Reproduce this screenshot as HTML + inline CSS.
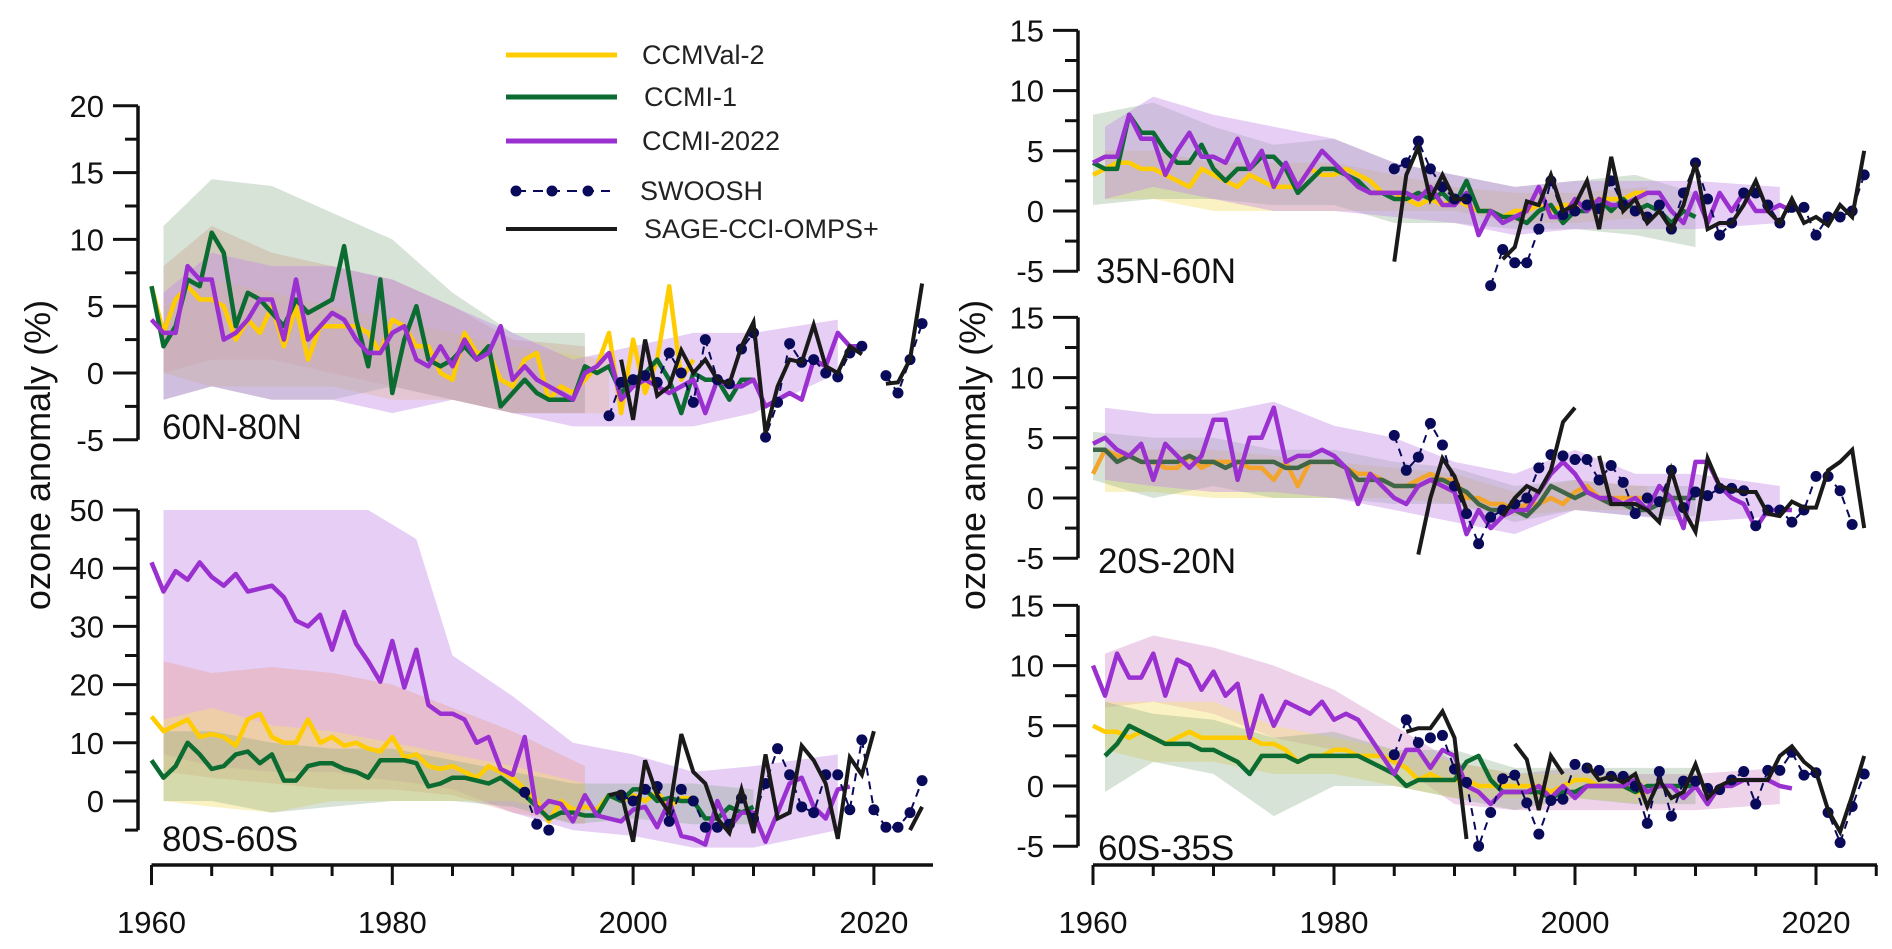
<!DOCTYPE html>
<html><head><meta charset="utf-8">
<style>
html,body{margin:0;padding:0;background:#fff;}
svg{display:block;font-family:"Liberation Sans","DejaVu Sans",sans-serif;}
</style></head>
<body>
<svg id="chart" width="1892" height="949" viewBox="0 0 1892 949" xmlns="http://www.w3.org/2000/svg">
<g>
  <g><line x1="506" y1="55" x2="617" y2="55" stroke="#ffcc00" stroke-width="5"/><text x="642" y="64" font-size="27" fill="#222">CCMVal-2</text></g>
  <g><line x1="506" y1="97" x2="617" y2="97" stroke="#0b6b30" stroke-width="5"/><text x="644" y="106" font-size="27" fill="#222">CCMI-1</text></g>
  <g><line x1="506" y1="141" x2="617" y2="141" stroke="#9b30d0" stroke-width="5"/><text x="642" y="150" font-size="27" fill="#222">CCMI-2022</text></g>
  <g><line x1="516" y1="191" x2="610" y2="191" stroke="#0a0a5a" stroke-width="2" stroke-dasharray="10,7"/><circle cx="516" cy="191" r="5.5" fill="#0a0a5a"/><circle cx="552" cy="191" r="5.5" fill="#0a0a5a"/><circle cx="588" cy="191" r="5.5" fill="#0a0a5a"/><text x="640" y="200" font-size="27" fill="#222">SWOOSH</text></g>
  <g><line x1="506" y1="229" x2="617" y2="229" stroke="#1a1a1a" stroke-width="4"/><text x="644" y="238" font-size="27" fill="#222">SAGE-CCI-OMPS+</text></g>
</g>
<text transform="translate(50,455) rotate(-90)" text-anchor="middle" font-size="36" fill="#111">ozone anomaly (%)</text>
<text transform="translate(985,455) rotate(-90)" text-anchor="middle" font-size="36" fill="#111">ozone anomaly (%)</text>
</svg>
<script>
// ---------- DATA (per panel) ----------
// 60N-80N
const p1_ccmval2_start = 1960;
const p1_ccmval2 = [6.5,3,5.5,6.5,5.5,5.5,5,2.5,4,3,5,2,5,1,3.5,3.5,3.5,3.5,3,1.5,4,3.5,2,2,0,-0.5,3,1.5,1.5,-0.5,-1,1,1.5,-2,-1,-1.5,-0.5,0.5,3,-3,2.5,-1.5,1,6.5,-0.5,1];
const p1_ccmi1_start = 1960;
const p1_ccmi1 = [6.5,2,3.5,7,6.5,10.5,9,3.5,6,5.5,4.5,3.5,5.5,4.5,5,5.5,9.5,4,0.5,7,-1.5,2.5,5,1,0.5,1,2,1,2,-2.5,-1.5,-0.5,-1.5,-2,-2,-2,0.5,0,0.5,-1.5,-0.5,0,1,-0.5,-3,0,-0.5,-0.5,-2,-0.5,-0.5];
const p1_ccmi2022_start = 1960;
const p1_ccmi2022 = [4,3,3,8,7,7,2.5,3,4,5.5,5.5,2.5,7,2.5,3.5,4.5,4,2.5,1.5,1.5,3,3.5,1,0.5,2,0.5,2.5,1,1.5,3.5,-0.5,0.5,-0.5,-1,-1.5,-2,0,0.5,1.5,-2,-1,-0.5,-1,-1.5,-1,-0.5,-3,-0.5,-1,-1,-0.5,-2.5,-2,-1.5,-2,1,0.5,3,2,2];
const p1_swoosh_start = 1998;
const p1_swoosh = [-3.2,-0.7,-0.5,-0.2,-0.7,1.5,0,-2.2,2.5,-0.5,-0.8,1.8,3,-4.8,-2.2,2.2,0.8,1,0,-0.3,1.5,2,null,-0.2,-1.5,1,3.7];
const p1_sage_start = 1999;
const p1_sage = [1,-3.5,2.5,-1.7,-1,1.7,0,1,-0.5,-0.8,2,3.8,-4.5,-1,1,0.8,3.6,0.5,0,2,1.4,null,-0.8,-0.7,1,6.7];
const p1_band_yellow_years = [1961,1965,1970,1975,1980,1985,1990,1998];
const p1_band_yellow_hi = [5,7,6,5,4,3,2,1];
const p1_band_yellow_lo = [0,-1,-1,-1,-2,-2,-3,-3];
const p1_band_salmon_years = [1961,1965,1970,1975,1980,1985,1990,1996];
const p1_band_salmon_hi = [8,11,9,8,7,5,2.5,2];
const p1_band_salmon_lo = [0,1,1,0,-1,-2,-3,-3];
const p1_band_green_years = [1961,1965,1970,1975,1980,1985,1990,1996];
const p1_band_green_hi = [11,14.5,14,12,10,6,3,3];
const p1_band_green_lo = [-2,-1,-2,-2,-1,-2,-3,-3];
const p1_band_purple_years = [1961,1965,1970,1975,1980,1985,1990,1995,2000,2005,2010,2017];
const p1_band_purple_hi = [6,9,8,8,7,5,3,1,2,3,3,4];
const p1_band_purple_lo = [-2,-1,-2,-2,-3,-2,-3,-4,-4,-4,-3,0];

// 80S-60S
const p2_ccmval2_start = 1960;
const p2_ccmval2 = [14.5,12,13,14,11,11.5,11,9.5,14,15,11,10,10,14,10,11,9.5,10,9,8.5,11,7.5,8,6,5.5,6,5,4,6,5,4,2,0,-3.5,0,-1.5,-1,-1.5,1,0,1,0,1.5,-1,0.5,0.5];
const p2_ccmi1_start = 1960;
const p2_ccmi1 = [7,4,6,10,8,5.5,6,8,8.5,6.5,8,3.5,3.5,6,6.5,6.5,5.5,5,4,7,7,7,6.5,2.5,3,4,4,3.5,3,4,2.5,1,-1,-3,-2,-2,-2.5,-2.5,1,0,2,2,0,0.5,0,0,-3,-3,-1,-2,-1];
const p2_ccmi2022_start = 1960;
const p2_ccmi2022 = [41,36,39.5,38,41,38.5,37,39,36,36.5,37,35,31,30,32,26,32.5,27,24,20.5,27.5,19.5,26,16.5,15,15,14,10,11,5.5,4.5,11,-2,0,-0.5,-3.5,1,-2.5,-3,-3.5,-1.5,-1,-4.5,0,-6,-6.5,-7.5,0,-4.5,-2,-2,-7,-2,3,4,-1,-3,2,2.5];
const p2_swoosh_start = 1991;
const p2_swoosh = [1.5,-4,-5,null,null,null,null,null,1,0,2,2.5,-3.5,2,0,-4.5,-4.5,-4,0.5,-3,3,9,4.5,-1,-2,4.5,4.5,-1.5,10.5,-1.5,-4.5,-4.5,-2,3.5];
const p2_sage_start = 1998;
const p2_sage = [1,1.5,-7,7,1,-2,11.5,5,3,-3,-5.5,2,-5.5,8,-3,-2,9.5,7,3,-6.5,7.5,4.5,12,null,null,-5,-1];
const p2_band_yellow_years = [1961,1965,1970,1975,1980,1985,1990,1996];
const p2_band_yellow_hi = [14,16,13,12,10,8,6,3];
const p2_band_yellow_lo = [0,-1,-2,0,0,0,0,-3];
const p2_band_salmon_years = [1961,1965,1970,1975,1980,1985,1990,1996];
const p2_band_salmon_hi = [24,22,23,22,20,16,12,6];
const p2_band_salmon_lo = [5,4,3,2,2,1,-2,-4];
const p2_band_green_years = [1961,1965,1970,1975,1980,1985,1990,1995,2000,2005,2010];
const p2_band_green_hi = [12,12,10,9,9,7,5,3,3,3,2];
const p2_band_green_lo = [0,0,-2,-1,0,0,-1,-4,-3,-4,-4];
const p2_band_purple_years = [1961,1965,1970,1975,1978,1982,1985,1990,1995,2000,2005,2010,2017];
const p2_band_purple_hi = [50,50,50,50,50,45,25,18,10,8,5,6,8];
const p2_band_purple_lo = [8,6,5,5,4,3,2,-2,-5,-6,-8,-8,-5];

// 35N-60N
const p3_ccmval2_start = 1960;
const p3_ccmval2 = [3,3.5,4,4,3.5,3.5,3,2.5,2,3.5,3,2.5,2,3,2.5,2,2,2,3.5,3,3,3.5,3,2.5,1.5,1.5,1,0.5,1,0.5,1,0.5,0,0,-0.5,0,0,0.5,0,0.5,0.5,0.5,1,1,1,1.5,1.5];
const p3_ccmi1_start = 1960;
const p3_ccmi1 = [4,3.5,3.5,8,6.5,6.5,5,4,4,5.5,3.5,2.5,3.5,3.5,4.5,4.5,3.5,1.5,2.5,3.5,3.5,3,2.5,1.5,1.5,1,1,1.5,1,1.5,0.5,2.5,0,0,-0.5,-0.5,-1,0,0.5,-1,0,0,1,0,1,0,0.5,0,-1,0,-0.5];
const p3_ccmi2022_start = 1960;
const p3_ccmi2022 = [4,4.5,4.5,8,6,6,3,5,6.5,4.5,4.5,4,6,3.5,5,2,4,2,3.5,5,4,3,2,1.5,1.5,1.5,1.5,1,2,0.5,0.5,1.5,-2,0,-1,-0.5,0,2,-0.5,-0.5,1,0,1,0.5,0.5,1,1.5,1.5,0,-1,1.5,-1,1.5,0,1.5,0,0,0.5,0];
const p3_swoosh_start = 1985;
const p3_swoosh = [3.5,4,5.8,3.5,2,1,1,null,-6.2,-3.2,-4.3,-4.3,-1.5,2.5,-0.3,0,0.5,0.2,2.5,0.5,0,-0.5,0.5,-1.5,1.5,4,1,-2,-1,1.5,1.5,0.5,-1,0.3,0.3,-2,-0.5,-0.5,0,3];
const p3_sage_start = 1985;
const p3_sage = [-4.2,3,5.3,1,3,1,1,null,null,-4,-3,0.8,0.5,3,0,0.5,2.5,-1.5,4.5,0,1,-1,0,-1.5,0.5,4,-1.5,-1,-1,0.5,2.5,0,-1,1,-1,-0.5,-1.2,0.5,-0.5,5];
const p3_band_yellow_years = [1961,1965,1970,1975,1980,1985,1990,1995,2000,2006];
const p3_band_yellow_hi = [5,5,4,4,4,3,2,1.5,1.5,2];
const p3_band_yellow_lo = [1,1,0,0,0,0,0,-1,-1,-0.5];
const p3_band_green_years = [1960,1965,1970,1975,1980,1985,1990,1995,2000,2005,2010];
const p3_band_green_hi = [8,9,7,5.5,6,4,3,2,2.5,3,1.5];
const p3_band_green_lo = [0.5,1,1,0.5,0.5,-1,-1,-1.5,-1.5,-2,-3];
const p3_band_purple_years = [1961,1965,1970,1975,1980,1985,1990,1995,2000,2005,2010,2017];
const p3_band_purple_hi = [7,9.5,8,7,6,4,3,2,2.5,2.5,2.5,2];
const p3_band_purple_lo = [1,2,1,0,0,-0.5,-1,-2,-1.5,-1.5,-1.5,-1];

// 20S-20N
const p4_ccmval2_start = 1960;
const p4_ccmval2 = [2,4,3.5,3.5,3,3,2.5,2.5,3.5,2.5,3,3,3,2.5,2.5,1.5,3,1,3,3,3,2.5,2,2,1.5,1,1,1.5,2,1.5,1.5,0,0,-0.5,-0.5,-1,-0.5,-0.5,0,-0.5,0.5,1,0,0,0,0,0];
const p4_ccmi1_start = 1960;
const p4_ccmi1 = [4,4,3,3.5,3,3,3,3,3.5,3,3,2.5,3,3,3,3,2.5,2.5,3,3,3,2.5,1.5,1.5,1.5,1,1,1,1.5,1.5,1,0.5,-0.5,-1,-1,-1,-1.5,-0.5,1,0.5,0,0.5,0,-0.5,-0.5,-1,-1,-0.5,0,0,0];
const p4_ccmi2022_start = 1960;
const p4_ccmi2022 = [4.5,5,4,3.5,4.5,1.5,4.5,3.5,2.5,3.5,6.5,6.5,1.5,5,5,7.5,3,3.5,3.5,4,3.5,2.5,-0.5,2,1,0,-0.5,1,1.5,1,0.5,-3,-1,-2.5,-1.5,-1,-1,0.5,2,3,2,0.5,0,0,-0.5,0,-1,1,0,-2.5,3,3,1,0,-0.5,-2.5,-1,-1,-1];
const p4_swoosh_start = 1985;
const p4_swoosh = [5.2,2.3,3.4,6.2,4.4,1,-1.3,-3.8,-1.6,-1,-0.5,0,2.5,3.6,3.5,3.2,3.2,1.5,2.7,1.3,-1.3,0,-0.3,2.3,-0.8,0.5,0.2,0.8,0.8,0.6,-2.3,-1,-1,-2,-1,1.8,1.8,0.6,-2.2];
const p4_sage_start = 1987;
const p4_sage = [-4.7,0,3.3,1.8,-1,null,null,-1.5,0,1,0.5,2.3,6.3,7.5,null,3.5,-0.5,-0.5,-0.5,-1,-2,2.3,-1,-2.8,3.3,1,0.7,0.5,0.5,-1.3,-1.5,-0.3,-0.8,-0.8,2.3,3,4,-2.5];
const p4_band_yellow_years = [1961,1965,1970,1975,1980,1985,1990,1995,2000,2006];
const p4_band_yellow_hi = [4,4,4,3.5,3,2.5,2,0.5,1.5,1];
const p4_band_yellow_lo = [0.5,0.5,0,0,0,0,-0.5,-1.5,-1,-1];
const p4_band_green_years = [1960,1965,1970,1975,1980,1985,1990,1995,2000,2005,2010];
const p4_band_green_hi = [5.5,5,5,4,4,3,2.5,1,1.5,1,1];
const p4_band_green_lo = [1.5,0,1,0,0,-0.5,-0.5,-2,-1,-1.5,-1.5];
const p4_band_purple_years = [1961,1965,1970,1975,1980,1985,1990,1995,2000,2005,2010,2017];
const p4_band_purple_hi = [7.5,7,7,8,6,5,3,2,4,2,2,1];
const p4_band_purple_lo = [1.5,1,0.5,0.5,0,-1,-2,-3,-1,-1.5,-2,-1.5];

// 60S-35S
const p5_ccmval2_start = 1960;
const p5_ccmval2 = [5,4.5,4.5,4,4.5,4,3.5,4,4.5,4,4,4,4,4,3.5,3.5,3,2,2.5,2.5,3,3,2.5,2.5,2.5,2,1.5,0.5,1,0.5,0.5,0.5,0,0,0,0,0,0,-0.5,0,0.5,0.5,0,0,0,-0.5,-0.5];
const p5_ccmi1_start = 1961;
const p5_ccmi1 = [2.5,3.5,5,4.5,4,3.5,3.5,3.5,3,3,2.5,2,1,2.5,2.5,2.5,2,2.5,2.5,2.5,2.5,2.5,2,1.5,1,0,0.5,0.5,0.5,0.5,2,2.5,0.5,-0.5,-0.5,-0.5,-0.5,-1,-0.5,-0.5,0,0,0,0,-0.5,0,0,0,0,0];
const p5_ccmi2022_start = 1960;
const p5_ccmi2022 = [10,7.5,11,9,9,11,7.5,10.5,10,8,9.5,7.5,8.5,4,7.5,5,7,6.5,6,7,5.5,6,5.5,4,2.5,1,3,3,1.5,3,2.5,0,-0.5,-1.5,-0.5,-0.5,-0.5,0,-1,0,-1,0,0,0,0,0.5,-0.5,0,0,-1,0,-1.5,0,0,0.5,0.5,0.5,0,-0.2];
const p5_swoosh_start = 1985;
const p5_swoosh = [2.6,5.5,3.6,4,4.2,1.4,0.3,-5,-2.2,0.6,0.9,-1.4,-4,-1.2,-1.1,1.8,1.5,1.3,0.8,0.8,0,-3.1,1.2,-2.5,0.4,0.4,-0.2,-0.3,0.5,1.2,-1.5,1.3,1.3,2.8,0.9,1.1,-2.2,-4.7,-1.7,1];
const p5_sage_start = 1986;
const p5_sage = [4.5,4.8,4.8,6.2,4,-4.4,null,null,null,3.5,2.2,-2,2.5,1,null,1.8,0.5,0.8,0.3,1,-1.7,0.5,-1,-0.5,1.8,-1,0,0.5,0.5,0.5,0.5,2.5,3.3,2,1.2,-2,-3.8,-0.8,2.5];
const p5_band_yellow_years = [1961,1965,1970,1975,1980,1985,1990,1995,2000,2006];
const p5_band_yellow_hi = [7,7,7,5,4,3,2,1,1,0.5];
const p5_band_yellow_lo = [3,2,2,1,1,0,-1,-1,-1,-1.5];
const p5_band_green_years = [1961,1965,1970,1975,1980,1985,1990,1995,2000,2005,2010];
const p5_band_green_hi = [7,6,5.5,4,4.5,3,3,1.5,1.5,1.5,1.5];
const p5_band_green_lo = [-0.5,2,1,-2.5,0,0,-1,-2,-1,-1.5,-1.5];
const p5_band_purple_years = [1961,1965,1970,1975,1980,1985,1990,1995,2000,2005,2010,2017];
const p5_band_purple_hi = [11,12.5,11.5,10,8,5,2,1,1.5,1,1,1.5];
const p5_band_purple_lo = [6.5,7,6,4,3,2,-1.5,-2,-2,-2,-2,-1.5];

const xTickYears = [1960,1980,2000,2020];

// ---------- RENDER ----------
const NS = 'http://www.w3.org/2000/svg';
const svg = document.getElementById('chart');
function mk(tag, attrs, parent){
  const e = document.createElementNS(NS, tag);
  for (const k in attrs) e.setAttribute(k, attrs[k]);
  (parent||svg).appendChild(e);
  return e;
}
const panels = [
  {id:'60n-80n', label:'60N-80N', lx:162, ly:439, axisX:138, yr0:151.5, pxYr:12.04, zeroY:373, pxU:13.36, ymin:-5, ymax:20, step:5, minor:2.5, ext:-5,
   d:{c2:[p1_ccmval2_start,p1_ccmval2],c1:[p1_ccmi1_start,p1_ccmi1],c22:[p1_ccmi2022_start,p1_ccmi2022],sw:[p1_swoosh_start,p1_swoosh],sg:[p1_sage_start,p1_sage]},
   bands:[[p1_band_salmon_years,p1_band_salmon_hi,p1_band_salmon_lo,'salmon'],[p1_band_yellow_years,p1_band_yellow_hi,p1_band_yellow_lo,'yellow'],[p1_band_green_years,p1_band_green_hi,p1_band_green_lo,'green'],[p1_band_purple_years,p1_band_purple_hi,p1_band_purple_lo,'purple']]},
  {id:'80s-60s', label:'80S-60S', lx:162, ly:851, axisX:138, yr0:151.5, pxYr:12.04, zeroY:801, pxU:5.82, ymin:0, ymax:50, step:10, minor:5, ext:-5,
   d:{c2:[p2_ccmval2_start,p2_ccmval2],c1:[p2_ccmi1_start,p2_ccmi1],c22:[p2_ccmi2022_start,p2_ccmi2022],sw:[p2_swoosh_start,p2_swoosh],sg:[p2_sage_start,p2_sage]},
   bands:[[p2_band_purple_years,p2_band_purple_hi,p2_band_purple_lo,'purple'],[p2_band_salmon_years,p2_band_salmon_hi,p2_band_salmon_lo,'salmon'],[p2_band_yellow_years,p2_band_yellow_hi,p2_band_yellow_lo,'yellow'],[p2_band_green_years,p2_band_green_hi,p2_band_green_lo,'green']]},
  {id:'35n-60n', label:'35N-60N', lx:1096, ly:283, axisX:1078, yr0:1093, pxYr:12.05, zeroY:211, pxU:12.04, ymin:-5, ymax:15, step:5, minor:2.5, ext:-5,
   d:{c2:[p3_ccmval2_start,p3_ccmval2],c1:[p3_ccmi1_start,p3_ccmi1],c22:[p3_ccmi2022_start,p3_ccmi2022],sw:[p3_swoosh_start,p3_swoosh],sg:[p3_sage_start,p3_sage]},
   bands:[[p3_band_yellow_years,p3_band_yellow_hi,p3_band_yellow_lo,'yellow'],[p3_band_green_years,p3_band_green_hi,p3_band_green_lo,'green'],[p3_band_purple_years,p3_band_purple_hi,p3_band_purple_lo,'purple']]},
  {id:'20s-20n', label:'20S-20N', lx:1098, ly:573, axisX:1078, yr0:1093, pxYr:12.05, zeroY:498, pxU:12.04, ymin:-5, ymax:15, step:5, minor:2.5, ext:-5, c2color:'#f2a52a', c1color:'#3f6646',
   d:{c2:[p4_ccmval2_start,p4_ccmval2],c1:[p4_ccmi1_start,p4_ccmi1],c22:[p4_ccmi2022_start,p4_ccmi2022],sw:[p4_swoosh_start,p4_swoosh],sg:[p4_sage_start,p4_sage]},
   bands:[[p4_band_yellow_years,p4_band_yellow_hi,p4_band_yellow_lo,'yellow'],[p4_band_green_years,p4_band_green_hi,p4_band_green_lo,'green'],[p4_band_purple_years,p4_band_purple_hi,p4_band_purple_lo,'purple']]},
  {id:'60s-35s', label:'60S-35S', lx:1098, ly:860, axisX:1078, yr0:1093, pxYr:12.05, zeroY:786, pxU:12.04, ymin:-5, ymax:15, step:5, minor:2.5, ext:-5,
   d:{c2:[p5_ccmval2_start,p5_ccmval2],c1:[p5_ccmi1_start,p5_ccmi1],c22:[p5_ccmi2022_start,p5_ccmi2022],sw:[p5_swoosh_start,p5_swoosh],sg:[p5_sage_start,p5_sage]},
   bands:[[p5_band_purple_years,p5_band_purple_hi,p5_band_purple_lo,'pink'],[p5_band_yellow_years,p5_band_yellow_hi,p5_band_yellow_lo,'yellow'],[p5_band_green_years,p5_band_green_hi,p5_band_green_lo,'green']]}
];
const bandFill = {yellow:['#f7e27a',0.45], salmon:['#e79a8a',0.35], green:['#7fa37a',0.3], purple:['#c38be6',0.42], pink:['#d58fc8',0.4]};

function pathFrom(start, vals, X, Y){
  let d=''; let pen=false;
  vals.forEach((v,i)=>{
    if (v===null){pen=false;return;}
    d += (pen?'L':'M') + X(start+i).toFixed(1) + ',' + Y(v).toFixed(1);
    pen=true;
  });
  return d;
}

panels.forEach(p=>{
  const X = yr => p.yr0 + (yr-1960)*p.pxYr;
  const Y = v => p.zeroY - v*p.pxU;
  const g = mk('g',{});
  
  
  p.bands.forEach(b=>{
    const [yrs,hi,lo,col]=b;
    let d='M'+yrs.map((y,i)=>X(y).toFixed(1)+','+Y(hi[i]).toFixed(1)).join('L');
    for (let i=yrs.length-1;i>=0;i--) d+='L'+X(yrs[i]).toFixed(1)+','+Y(lo[i]).toFixed(1);
    d+='Z';
    const e = mk('path',{d:d, fill:bandFill[col][0], 'fill-opacity':bandFill[col][1], stroke:'none'}, g);
    
    
  });
  const ax = mk('g',{},g);
  
  
  mk('line',{x1:p.axisX,y1:Y(p.ymax),x2:p.axisX,y2:Y(p.ext),stroke:'#111','stroke-width':3.5},ax);
  for (let v=p.ymin; v<=p.ymax+0.01; v+=p.minor){
    const major = Math.abs(v/p.step - Math.round(v/p.step))<1e-6;
    mk('line',{x1:p.axisX-(major?25:13),y1:Y(v),x2:p.axisX,y2:Y(v),stroke:'#111','stroke-width':3},ax);
    if (major){
      const t = mk('text',{x:p.axisX-34,y:Y(v)+11,'text-anchor':'end','font-size':31,fill:'#111'},ax);
      t.textContent = v;
      
      
    }
  }
  if (p.ymin>p.ext) mk('line',{x1:p.axisX-13,y1:Y(p.ext),x2:p.axisX,y2:Y(p.ext),stroke:'#111','stroke-width':3},ax);
  const lw=4.5;
  const c2 = mk('path',{d:pathFrom(p.d.c2[0],p.d.c2[1],X,Y),fill:'none',stroke:p.c2color||'#ffcc00','stroke-width':lw,'stroke-linejoin':'round'},g);
  
  
  const c1 = mk('path',{d:pathFrom(p.d.c1[0],p.d.c1[1],X,Y),fill:'none',stroke:p.c1color||'#0b6b30','stroke-width':lw,'stroke-linejoin':'round'},g);
  
  
  const c22 = mk('path',{d:pathFrom(p.d.c22[0],p.d.c22[1],X,Y),fill:'none',stroke:'#9b30d0','stroke-width':lw,'stroke-linejoin':'round'},g);
  
  
  const sw = mk('path',{d:pathFrom(p.d.sw[0],p.d.sw[1],X,Y),fill:'none',stroke:'#0a0a5a','stroke-width':2,'stroke-dasharray':'8,6'},g);
  
  
  p.d.sw[1].forEach((v,i)=>{
    if (v===null) return;
    const c = mk('circle',{cx:X(p.d.sw[0]+i),cy:Y(v),r:5.5,fill:'#0a0a5a'},g);
    
    
  });
  const sg = mk('path',{d:pathFrom(p.d.sg[0],p.d.sg[1],X,Y),fill:'none',stroke:'#1a1a1a','stroke-width':4,'stroke-linejoin':'miter'},g);
  
  
  const lab = mk('text',{x:p.lx,y:p.ly,'font-size':35,fill:'#111'},g);
  lab.textContent = p.label;
  
  
});

[{x0:151.5,pxYr:12.04,xEnd:933,name:'x-axis-left'},{x0:1093,pxYr:12.05,xEnd:1877,name:'x-axis-right'}].forEach(a=>{
  const g = mk('g',{});
  
  
  mk('line',{x1:a.x0,y1:865,x2:a.xEnd,y2:865,stroke:'#111','stroke-width':3.5},g);
  for (let yr=1960; a.x0+(yr-1960)*a.pxYr<=a.xEnd+1; yr+=5){
    const x=a.x0+(yr-1960)*a.pxYr;
    const major = xTickYears.includes(yr);
    mk('line',{x1:x,y1:865,x2:x,y2:865+(major?20:11),stroke:'#111','stroke-width':3},g);
  }
  xTickYears.forEach(yr=>{
    const t = mk('text',{x:a.x0+(yr-1960)*a.pxYr,y:933,'text-anchor':'middle','font-size':31,fill:'#111'},g);
    t.textContent = yr;
    
    
  });
});
</script>
</body></html>
